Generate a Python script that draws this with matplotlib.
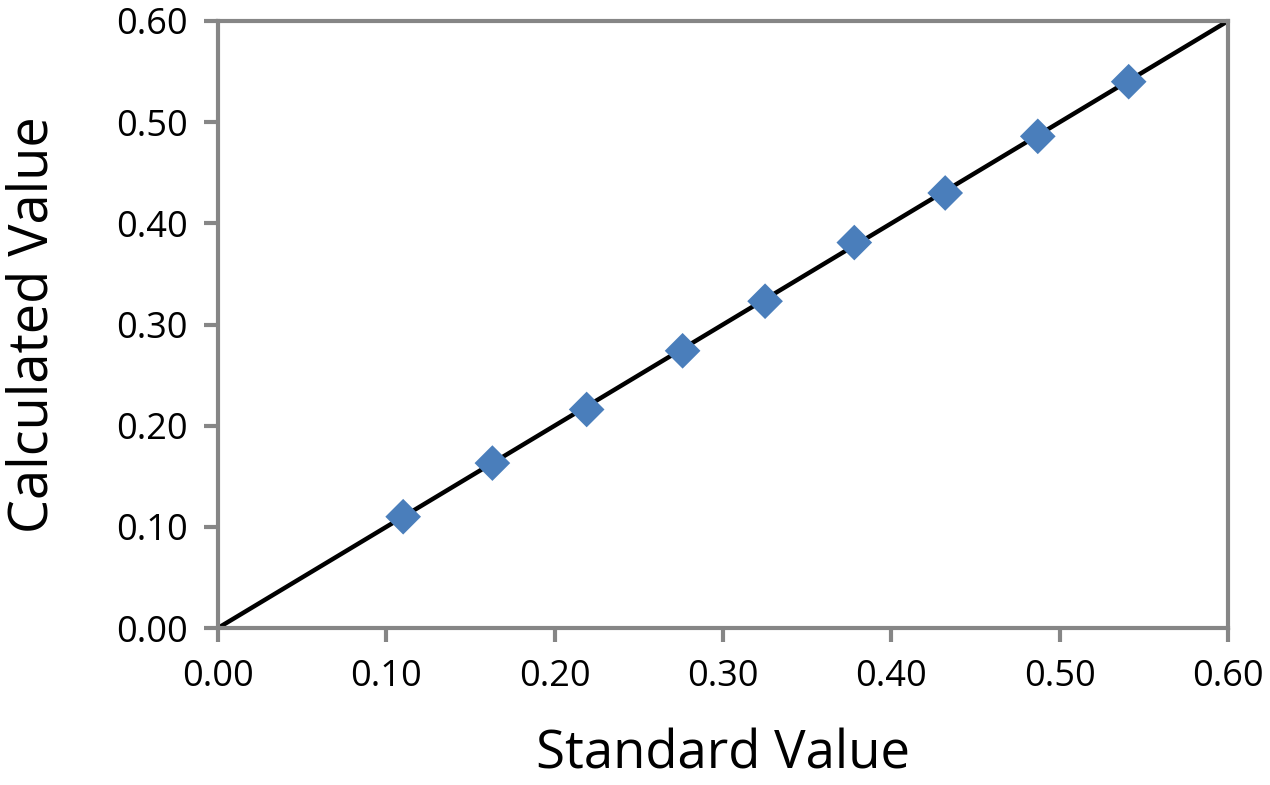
import matplotlib
matplotlib.use("Agg")
import matplotlib.pyplot as plt
import numpy as np

standard = [0.110, 0.163, 0.219, 0.276, 0.325, 0.378, 0.432, 0.487, 0.541]
calculated = [0.110, 0.163, 0.216, 0.274, 0.323, 0.381, 0.430, 0.486, 0.540]
line_x = [0.0, 0.6]
line_y = [0.0, 0.6]
ticks = [0.0, 0.1, 0.2, 0.3, 0.4, 0.5, 0.6]

plt.rcParams['font.family'] = ['Open Sans', 'DejaVu Sans']

fig = plt.figure(figsize=(12.7, 7.85), dpi=100)
ax = fig.add_axes([218/1270, 1-628/785, (1228-218)/1270, (628-21)/785])

ax.plot(line_x, line_y, color='black', lw=3.2, zorder=2, clip_on=False, solid_capstyle='butt')
ax.scatter(standard, calculated, marker='D', s=330, color='#4a7ebb', edgecolors='none', zorder=3)

ax.set_xlim(0, 0.6)
ax.set_ylim(0, 0.6)
ax.set_xticks(ticks)
ax.set_yticks(ticks)
ax.set_xticklabels([f"{t:.2f}" for t in ticks])
ax.set_yticklabels([f"{t:.2f}" for t in ticks])
for s in ax.spines.values():
    s.set_color('#868686')
    s.set_linewidth(3)
ax.tick_params(axis='both', direction='out', length=10, width=3, color='#868686',
               labelsize=26, pad=12)
ax.set_xlabel('Standard Value', fontsize=38, labelpad=24)
ax.set_ylabel('Calculated Value', fontsize=39, labelpad=40)

fig.savefig('out.png', dpi=100)
